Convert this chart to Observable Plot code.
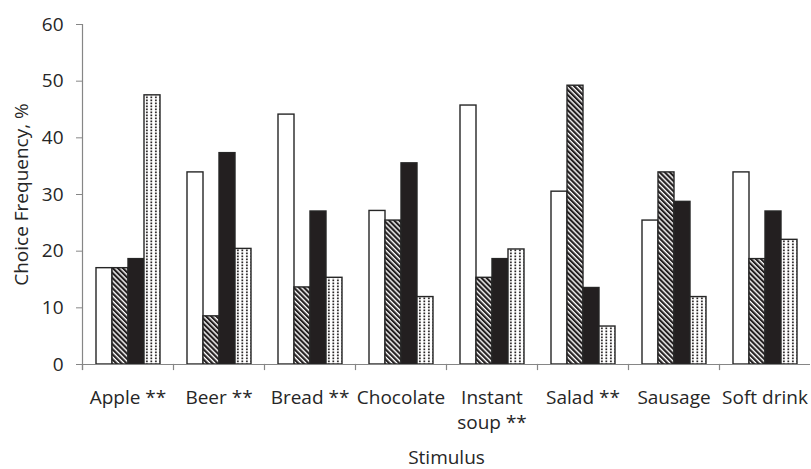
<!DOCTYPE html>
<html>
<head>
<meta charset="utf-8">
<script src="https://cdn.jsdelivr.net/npm/d3@7"></script>
<script src="https://cdn.jsdelivr.net/npm/@observablehq/plot@0.6"></script>
<style>
  html, body { margin: 0; padding: 0; background: #fff; }
  #chart svg { display: block; }
</style>
</head>
<body>
<div id="chart"></div>
<script>
const categories = ["Apple **", "Beer **", "Bread **", "Chocolate", "Instant soup **", "Salad **", "Sausage", "Soft drink"];
const seriesNames = ["A", "B", "C", "D"];
const seriesA = [17.0, 33.9, 44.1, 27.1, 45.7, 30.5, 25.4, 33.9];
const seriesB = [17.0, 8.5, 13.6, 25.4, 15.3, 49.2, 33.9, 18.6];
const seriesC = [18.6, 37.3, 27.0, 35.5, 18.6, 13.5, 28.7, 27.0];
const seriesD = [47.5, 20.4, 15.3, 11.9, 20.3, 6.7, 11.9, 22.0];
const yTicks = [0, 10, 20, 30, 40, 50, 60];

const allSeries = [seriesA, seriesB, seriesC, seriesD];
const data = [];
categories.forEach((c, i) => {
  seriesNames.forEach((s, j) => data.push({category: c, series: s, value: allSeries[j][i]}));
});

const fills = {A: "#ffffff", B: "url(#hatch)", C: "#231f20", D: "url(#dots)"};
const axisColor = "#868686";
const textColor = "#262626";
const font = "'Open Sans', Lato, sans-serif";

const chart = Plot.plot({
  width: 811,
  height: 469,
  marginTop: 24,
  marginBottom: 105,
  marginLeft: 81,
  marginRight: 0,
  style: {fontFamily: font, fontSize: "19px", color: textColor, background: "#fff"},
  fx: {domain: categories, paddingInner: 0, paddingOuter: 0},
  x: {domain: seriesNames, paddingInner: 0, paddingOuter: 0.78, axis: null},
  y: {domain: [0, 60]},
  marks: [
    Plot.barY(data, {
      fx: "category", x: "series", y: "value",
      fill: d => fills[d.series],
      stroke: "#262626", strokeWidth: 1.4
    }),
    Plot.ruleY([0], {stroke: axisColor, strokeWidth: 1.2}),
    Plot.frame({anchor: "left", stroke: axisColor, strokeWidth: 1.2, insetTop: 340, insetBottom: -5}),
    Plot.frame({anchor: "left", stroke: axisColor, strokeWidth: 1.2, insetBottom: -5, facetAnchor: "left"}),
    Plot.axisY(yTicks, {
      tickSize: 6, tickPadding: 13, stroke: axisColor,
      fontSize: 19, fill: textColor,
      label: "Choice Frequency, %", labelAnchor: "center", labelArrow: false, labelOffset: 68
    }),
    Plot.axisFx({
      anchor: "bottom", tickSize: 0, tickPadding: 21, fontSize: 19, fill: textColor,
      lineHeight: 1.35,
      tickFormat: d => d === "Instant soup **" ? "Instant\nsoup **" : d,
      label: "Stimulus", labelAnchor: "center", labelOffset: 99
    })
  ]
});

const svg = d3.select(chart);
const defs = svg.insert("defs", ":first-child");
const hatch = defs.append("pattern")
  .attr("id", "hatch").attr("patternUnits", "userSpaceOnUse")
  .attr("width", 3.6).attr("height", 3.6)
  .attr("patternTransform", "rotate(-45)");
hatch.append("rect").attr("width", 3.6).attr("height", 3.6).attr("fill", "#fff");
hatch.append("rect").attr("width", 2.2).attr("height", 3.6).attr("fill", "#231f20");
const dots = defs.append("pattern")
  .attr("id", "dots").attr("patternUnits", "userSpaceOnUse")
  .attr("width", 4.5).attr("height", 3);
dots.append("rect").attr("width", 4.5).attr("height", 3).attr("fill", "#fff");
dots.append("rect").attr("x", 1).attr("y", 0.5).attr("width", 1.7).attr("height", 1.7).attr("fill", "#231f20");

document.getElementById("chart").appendChild(chart);
</script>
</body>
</html>
